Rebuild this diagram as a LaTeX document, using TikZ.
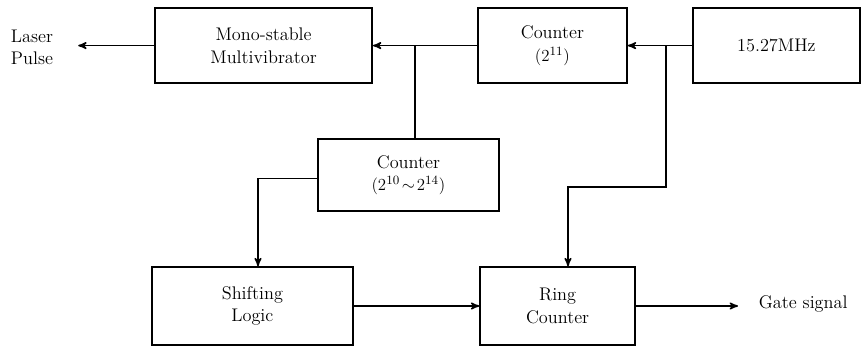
\documentclass[tikz,border=0pt]{standalone}
\usetikzlibrary{arrows}

\begin{document}
\begin{tikzpicture}[line width=1.1pt, >=stealth', font=\fontsize{13}{16}\selectfont]
  \tikzstyle{block}=[draw, rectangle, align=center, inner sep=0pt]
  \useasboundingbox (0,0) rectangle (21.55,-8.7);

        \node[block, minimum width=5.43cm, minimum height=1.88cm] (mono)    at (6.59,-1.14)  {Mono-stable\\Multivibrator};
        \node[block, minimum width=3.73cm, minimum height=1.88cm] (cnt)     at (13.81,-1.14) {Counter\\$(2^{11})$};
        \node[block, minimum width=4.18cm, minimum height=1.88cm] (osc)     at (19.41,-1.14) {15.27MHz};
        \node[block, minimum width=4.53cm, minimum height=1.80cm] (cntb)    at (10.21,-4.38) {Counter\\$(2^{10}\!\sim\!2^{14})$};
        \node[block, minimum width=5.03cm, minimum height=1.95cm] (shift)   at (6.31,-7.65)  {Shifting\\Logic};
        \node[block, minimum width=3.88cm, minimum height=1.95cm] (ring)    at (13.94,-7.65) {Ring\\Counter};
        \node[align=left] (laser) at (0.8,-1.18) {Laser\\Pulse};
        \node (gate) at (20.08,-7.6) {Gate signal};

        \coordinate (ja) at (10.38,-1.14);
        \coordinate (jb) at (16.65,-1.14);
        \coordinate (jc) at (16.65,-4.68);
        \coordinate (jd) at (14.2,-4.68);
        \coordinate (je) at ([yshift=-0.08cm]cntb.west);
        \coordinate (jf) at (6.45,-4.46);

        \draw[->] (osc) -- (cnt);
        \draw[->] (cnt) -- (mono);
        \draw[->] (mono.west) -- ([xshift=-1.9cm]mono.west);
        \draw (ja) -- (ja |- cntb.north);
        \draw[->] (jb) -- (jc) -- (jd) -- (jd |- ring.north);
        \draw[->] (je) -- (jf) -- (jf |- shift.north);
        \draw[->] (shift) -- (ring);
        \draw[->] (ring.east) -- ([xshift=2.55cm]ring.east);

\end{tikzpicture}
\end{document}
